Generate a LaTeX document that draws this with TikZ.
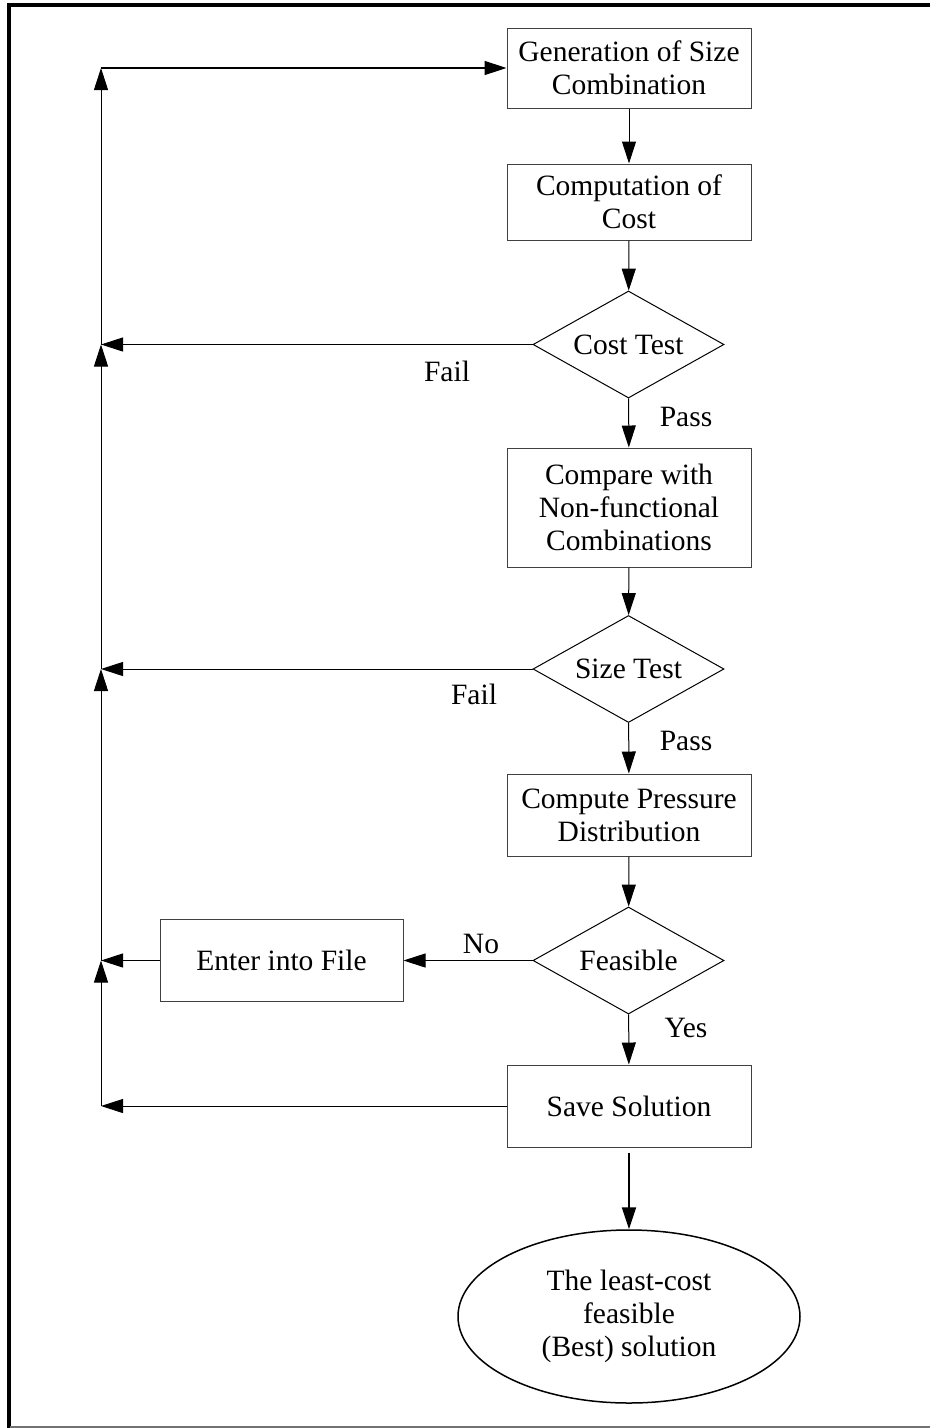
\documentclass[tikz,border=0pt]{standalone}
\usepackage{fontspec}
\setmainfont{Liberation Serif}
\usetikzlibrary{shapes.geometric,arrows.meta}
\begin{document}
\begin{tikzpicture}[x=1pt,y=-1pt,
  every node/.style={font=\fontsize{29.5}{33}\selectfont},
  proc/.style={draw=black!75, line width=1pt, minimum width=244pt, align=center, inner sep=0pt},
  test/.style={diamond, aspect=1.785, draw=black, line width=1pt, minimum width=191pt, minimum height=107pt, inner sep=0pt},
  term/.style={ellipse, draw=black, line width=1.5pt, minimum width=342pt, minimum height=173pt, align=center, inner sep=0pt},
  flow/.style={line width=1pt, -{Triangle[length=22pt,width=14pt]}},
  lbl/.style={inner sep=0pt}
]
\useasboundingbox (0,0) rectangle (930,1428);

% frame
\draw[line width=4pt] (8.5,1428) -- (8.5,5) -- (930,5);
\draw[black!55, line width=1.5pt] (10,1427) -- (930,1427);

% main column
\node[proc, minimum height=80pt] (gen) at (629,68) {Generation of Size\\Combination};
\node[proc, minimum height=76pt] (cost) at (629,202) {Computation of\\Cost};
\node[test] (ct) at (628.5,344.5) {Cost Test};
\node[proc, minimum height=119pt] (cmp) at (629,507.5) {Compare with\\Non-functional\\Combinations};
\node[test] (st) at (628.5,669) {Size Test};
\node[proc, minimum height=82pt] (pd) at (629,815) {Compute Pressure\\Distribution};
\node[test] (fe) at (628.5,960.5) {Feasible};
\node[proc, minimum width=243pt, minimum height=82pt] (ef) at (281.5,960.5) {Enter into File};
\node[proc, minimum height=82pt] (ss) at (629,1106) {Save Solution};
\node[term] (best) at (629,1316.5) {The least-cost\\feasible\\(Best) solution};

% return line junctions
\coordinate (j0) at (101,68);
\coordinate (j1) at (101,344.5);
\coordinate (j2) at (101,669);
\coordinate (j3) at (101,960.5);
\coordinate (j4) at (101,1106);

% downward flow
\draw[flow] (gen) -- (cost);
\draw[flow] (cost) -- (ct);
\draw[flow] (ct) -- (cmp);
\draw[flow] (cmp) -- (st);
\draw[flow] (st) -- (pd);
\draw[flow] (pd) -- (fe);
\draw[flow] (fe) -- (ss);
\draw[flow, line width=2pt] ([yshift=-5pt]ss.south) -- (best.north);

% branches back to the return line
\draw[flow] (ct.west) -- (j1);
\draw[flow] (st.west) -- (j2);
\draw[flow] (fe.west) -- (ef.east);
\draw[flow] (ef.west) -- (j3);
\draw[flow] (ss.west) -- (j4);

% return line
\draw[flow] (j4) -- (j3);
\draw[flow] (j3) -- (j2);
\draw[flow] (j2) -- (j1);
\draw[flow] (j1) -- (j0);
\draw[flow, line width=1.5pt] (j0) -- (gen.west);

% branch labels
\node[lbl] (f1) at (447,371) {Fail};
\node[lbl] (p1) at (686,417) {Pass};
\node[lbl] (f2) at (474,694) {Fail};
\node[lbl] (p2) at (686,741) {Pass};
\node[lbl] (no) at (481,944) {No};
\node[lbl] (ye) at (686,1028) {Yes};
\end{tikzpicture}
\end{document}
